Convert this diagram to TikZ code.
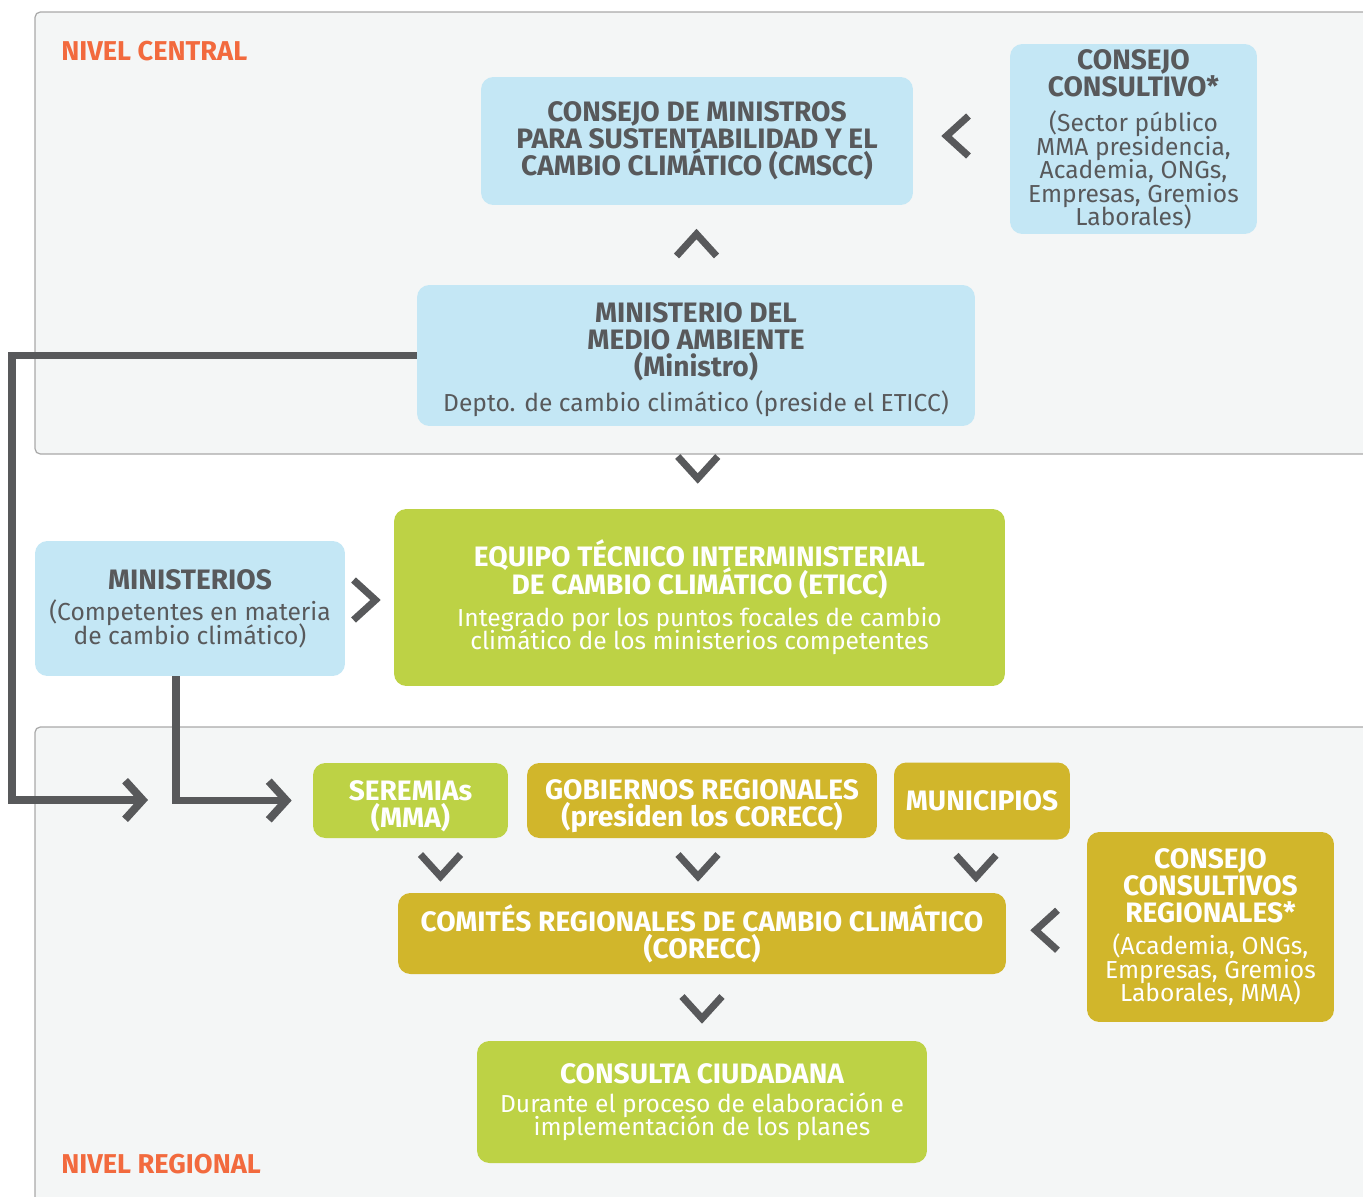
\documentclass[tikz,border=0pt]{standalone}
\usepackage{fontspec}
\setmainfont{Fira Sans}
\usetikzlibrary{calc,arrows.meta}
\definecolor{txtgray}{HTML}{58595B}
\definecolor{skyfill}{HTML}{C4E7F5}
\definecolor{limefill}{HTML}{BDD245}
\definecolor{goldfill}{HTML}{D1B62B}
\definecolor{panelfill}{HTML}{F4F6F6}
\definecolor{panelline}{HTML}{A9A9A9}
\definecolor{nivelorange}{HTML}{F26A3E}
\newcommand{\hb}{\fontsize{16}{15.4}\selectfont\bfseries\lineskiplimit=-20pt}
\newcommand{\rg}{\fontsize{14}{13.3}\selectfont\mdseries}
\tikzset{
  panel/.style={draw=panelline,fill=panelfill,line width=0.7pt,rounded corners=3pt},
  mybox/.style={rounded corners=7pt,align=center,inner sep=0pt,font=\hb},
  bluebox/.style={mybox,fill=skyfill,text=txtgray},
  greenbox/.style={mybox,fill=limefill,text=white},
  goldbox/.style={mybox,fill=goldfill,text=white},
  nivel/.style={anchor=base west,text=nivelorange,
    font=\fontsize{15.5}{16}\selectfont\bfseries,inner sep=0pt},
  chevline/.style={draw=txtgray,line width=4pt,miter limit=10},
  chev/.pic={\draw[chevline] (-11,20) -- (11,0) -- (-11,-20);},
  link/.style={draw=txtgray,line width=4.5pt,miter limit=10,
    -{Straight Barb[length=10pt,width=22pt]}}
}
\begin{document}
\begin{tikzpicture}[x=0.02cm,y=0.02cm]
\useasboundingbox (0,0) rectangle (1363,-1197);
% the two levels
\draw[panel] (35,-12) rectangle (1390,-454);
\draw[panel] (35,-727) rectangle (1390,-1220);
\node[nivel] (central) at (61,-60) {NIVEL CENTRAL};
\node[nivel] (regional) at (61,-1173) {NIVEL REGIONAL};

% nivel central
\node[bluebox,minimum width=8.64cm,minimum height=2.56cm] (cmscc) at (697,-141)
  {CONSEJO DE MINISTROS\\PARA SUSTENTABILIDAD Y EL\\CAMBIO CLIMÁTICO (CMSCC)};
\node[bluebox,minimum width=4.94cm,minimum height=3.8cm] (consejo) at (1133.5,-139)
  {CONSEJO\\CONSULTIVO*\\[5pt]\rg (Sector público\\[-2.1pt]\rg MMA presidencia,\\[-2.1pt]\rg Academia, ONGs,\\[-2.1pt]\rg Empresas, Gremios\\[-2.1pt]\rg Laborales)};
\node[bluebox,minimum width=11.16cm,minimum height=2.82cm] (mma) at (696,-355.5)
  {\rule{0pt}{16pt}MINISTERIO DEL\\MEDIO AMBIENTE\\(Ministro)\\[4pt]\rg Depto. de cambio climático (preside el ETICC)};

% entre niveles
\node[bluebox,minimum width=6.2cm,minimum height=2.7cm] (ministerios) at (190,-608.5)
  {MINISTERIOS\\[2.5pt]\rg (Competentes en materia\\[-2.1pt]\rg de cambio climático)};
\node[greenbox,minimum width=12.22cm,minimum height=3.54cm] (eticc) at (699.5,-597.5)
  {EQUIPO TÉCNICO INTERMINISTERIAL\\DE CAMBIO CLIMÁTICO (ETICC)\\[3pt]\rg Integrado por los puntos focales de cambio\\[-2.1pt]\rg climático de los ministerios competentes};

% nivel regional
\node[greenbox,minimum width=3.9cm,minimum height=1.5cm] (seremias) at (410.5,-800.5)
  {\rule{0pt}{18pt}SEREMIAs\\(MMA)};
\node[goldbox,minimum width=7cm,minimum height=1.5cm] (gores) at (702,-800.5)
  {\rule{0pt}{18pt}GOBIERNOS REGIONALES\\(presiden los CORECC)};
\node[goldbox,minimum width=3.52cm,minimum height=1.54cm] (municipios) at (982,-801)
  {MUNICIPIOS};
\node[goldbox,minimum width=12.16cm,minimum height=1.62cm] (corecc) at (702,-933.5)
  {COMITÉS REGIONALES DE CAMBIO CLIMÁTICO\\(CORECC)};
\node[goldbox,minimum width=4.94cm,minimum height=3.8cm] (ccr) at (1210.5,-927)
  {CONSEJO\\CONSULTIVOS\\REGIONALES*\\[3pt]\rg (Academia, ONGs,\\[-2.1pt]\rg Empresas, Gremios\\[-2.1pt]\rg Laborales, MMA)};
\node[greenbox,minimum width=9cm,minimum height=2.44cm] (consulta) at (702,-1102)
  {CONSULTA CIUDADANA\\[1pt]\rg Durante el proceso de elaboración e\\[-2.1pt]\rg implementación de los planes};

% chevrons
\pic[rotate=90] at ($(cmscc.south)!0.5!(mma.north)$) {chev};
\pic[rotate=180] at ($(cmscc.east)!0.5!(consejo.west)+(-4,4)$) {chev};
\pic[rotate=-90] at ($(mma.south)!0.5!(eticc.north)$) {chev};
\pic at ($(ministerios.east)!0.5!(eticc.west)+(-5,3)$) {chev};
\pic[rotate=-90] at ($(seremias.south)!0.5!(seremias.south|-corecc.north)+(30,0)$) {chev};
\pic[rotate=-90] at ($(gores.south)!0.5!(gores.south|-corecc.north)+(-4,0)$) {chev};
\pic[rotate=-90] at ($(municipios.south)!0.5!(municipios.south|-corecc.north)+(-6,0)$) {chev};
\pic[rotate=180] at ($(corecc.east)!0.5!(ccr.west)$) {chev};
\pic[rotate=-90] at ($(corecc.south)!0.5!(consulta.north)$) {chev};

% connectors
\coordinate (tip1) at (148,-800);
\draw[link] (mma.west) -- ++(-405,0) |- (tip1);
\draw[link,shorten >=0.42cm] ([xshift=-0.28cm]ministerios.south) |- (seremias.west);
\end{tikzpicture}
\end{document}
